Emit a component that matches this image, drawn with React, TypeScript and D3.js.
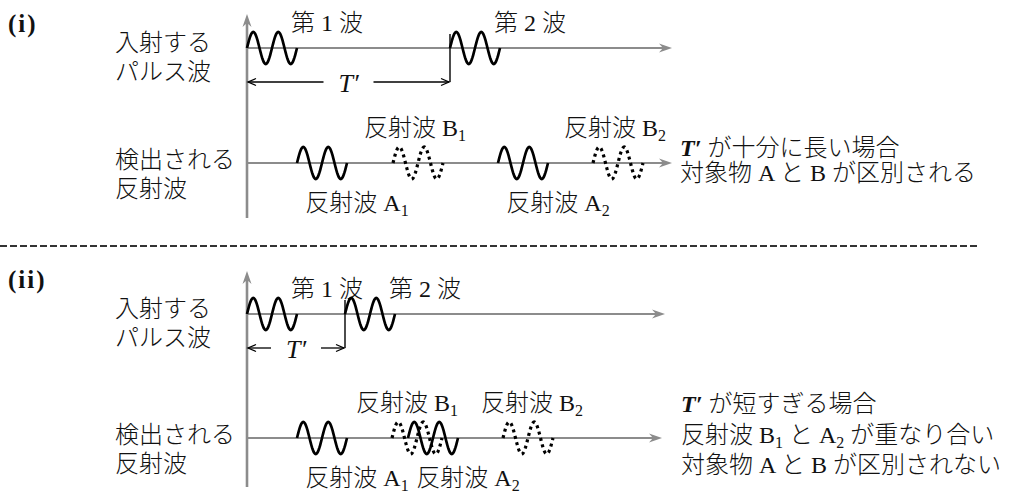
import * as d3 from "d3";

// time unit = length of one pulse (2 cycles)
const cycles = 2;

// (i) long interval
const incidentI = [0, 4.06];
const reflectAI = [1.0, 5.02];
const reflectBI = [2.92, 6.92];

// (ii) short interval
const incidentII = [0, 1.96];
const reflectAII = [1.0, 3.22];
const reflectBII = [2.9, 5.12];

const incidentNames = ["1", "2"];
const reflectSubs = ["1", "2"];

const notesI = ["が十分に長い場合", "対象物 A と B が区別される"];
const notesII = ["が短すぎる場合", "反射波", "対象物 A と B が区別されない"];

const FONT = "'Liberation Serif', 'Noto Sans CJK JP', serif";
const GRAY = "#8c8c8c";

const x = d3.scaleLinear().domain([0, 8.5]).range([247, 672]);
const amp = d3.scaleLinear().domain([-1, 1]).range([16, -16]);
const samples = d3.range(0, 1 + 1e-9, 1 / 80);

const wavePath = (t0: number, baseY: number) =>
  d3
    .line<number>()
    .x((s) => x(t0 + s))
    .y((s) => baseY + amp(Math.sin(2 * Math.PI * cycles * s)))(samples) || "";

const hArrow = (xe: number, y: number) =>
  `M${xe - 13},${y - 4.5}L${xe},${y}L${xe - 13},${y + 4.5}L${xe - 9},${y}Z`;
const vArrow = (xa: number, y: number) =>
  `M${xa - 4.5},${y + 13}L${xa},${y}L${xa + 4.5},${y + 13}L${xa},${y + 9}Z`;

interface PanelProps {
  tag: string;
  tagY: number;
  axisTop: number;
  axisBottom: number;
  incY: number;
  detY: number;
  incEnd: number;
  detEnd: number;
  arrowY: number;
  incident: number[];
  reflA: number[];
  reflB: number[];
  bShift: number[];
}

const txt = { fontFamily: FONT, fontSize: 24, fill: "#111", fontWeight: 300 } as const;

const Panel = (p: PanelProps) => {
  const ax = x(0);
  const t2 = x(p.incident[1]);
  const mid = (ax + t2) / 2;
  return (
    <g>
      <text
        x={8}
        y={p.tagY}
        style={{ ...txt, fontSize: 25, fontWeight: "bold", letterSpacing: 2 }}
      >
        {p.tag}
      </text>
      {/* axes */}
      <line x1={ax} x2={ax} y1={p.axisTop + 6} y2={p.axisBottom} stroke={GRAY} strokeWidth={2.6} />
      <path d={vArrow(ax, p.axisTop)} fill={GRAY} />
      <line x1={ax} x2={x(p.incEnd) - 6} y1={p.incY} y2={p.incY} stroke={GRAY} strokeWidth={2} />
      <path d={hArrow(x(p.incEnd), p.incY)} fill={GRAY} />
      <line x1={ax} x2={x(p.detEnd) - 6} y1={p.detY} y2={p.detY} stroke={GRAY} strokeWidth={2} />
      <path d={hArrow(x(p.detEnd), p.detY)} fill={GRAY} />

      {/* left labels */}
      <text x={115} y={p.incY + 3} style={txt}>入射する</text>
      <text x={115} y={p.incY + 32} style={txt}>パルス波</text>
      <text x={115} y={p.detY + 5} style={txt}>検出される</text>
      <text x={115} y={p.detY + 34} style={txt}>反射波</text>

      {/* incident pulses */}
      {p.incident.map((t, i) => (
        <g key={"inc" + i}>
          <path d={wavePath(t, p.incY)} fill="none" stroke="#000" strokeWidth={2.7} />
          <text x={x(t) + 44} y={p.incY - 17} style={txt}>
            第 {incidentNames[i]} 波
          </text>
        </g>
      ))}
      <line x1={t2} x2={t2} y1={p.incY - 14} y2={p.arrowY} stroke="#000" strokeWidth={1.4} />

      {/* T' interval arrow */}
      <line x1={ax + 1} x2={mid - 25} y1={p.arrowY} y2={p.arrowY} stroke="#000" strokeWidth={1.3} />
      <line x1={mid + 25} x2={t2 - 1} y1={p.arrowY} y2={p.arrowY} stroke="#000" strokeWidth={1.3} />
      <path
        d={`M${ax + 9},${p.arrowY - 3.5}L${ax + 1},${p.arrowY}L${ax + 9},${p.arrowY + 3.5}`}
        fill="none"
        stroke="#000"
        strokeWidth={1.3}
      />
      <path
        d={`M${t2 - 9},${p.arrowY - 3.5}L${t2 - 1},${p.arrowY}L${t2 - 9},${p.arrowY + 3.5}`}
        fill="none"
        stroke="#000"
        strokeWidth={1.3}
      />
      <text
        x={mid}
        y={p.arrowY + 10}
        textAnchor="middle"
        style={{ ...txt, fontStyle: "italic", fontSize: 26 }}
      >
        T′
      </text>

      {/* reflected pulses */}
      {p.reflB.map((t, i) => (
        <g key={"b" + i}>
          <path
            d={wavePath(t, p.detY)}
            fill="none"
            stroke="#000"
            strokeWidth={3.2}
            strokeDasharray="3,3.6"
          />
          <text x={x(t + 0.5) + p.bShift[i]} y={p.detY - 27} textAnchor="middle" style={txt}>
            反射波 B<tspan dy={5} fontSize={16}>{reflectSubs[i]}</tspan>
          </text>
        </g>
      ))}
      {p.reflA.map((t, i) => (
        <g key={"a" + i}>
          <path d={wavePath(t, p.detY)} fill="none" stroke="#000" strokeWidth={2.7} />
          <text x={x(t + 0.5) + 35} y={p.detY + 48} textAnchor="middle" style={txt}>
            反射波 A<tspan dy={5} fontSize={16}>{reflectSubs[i]}</tspan>
          </text>
        </g>
      ))}
    </g>
  );
};

export default function App() {
  const tp = { fontStyle: "italic", fontWeight: "bold" } as const;
  return (
    <svg
      width={1013}
      height={493}
      style={{ position: "absolute", left: 0, top: 0, background: "#fff" }}
    >
      <Panel
        tag="(i)"
        tagY={32}
        axisTop={14}
        axisBottom={218}
        incY={48}
        detY={163}
        incEnd={8.5}
        detEnd={8.5}
        arrowY={82}
        incident={incidentI}
        reflA={reflectAI}
        reflB={reflectBI}
        bShift={[-3, -3]}
      />
      <text x={680} y={156} style={txt}>
        <tspan style={tp}>T′</tspan> {notesI[0]}
      </text>
      <text x={680} y={181} style={txt}>
        {notesI[1]}
      </text>

      <line x1={0} x2={980} y1={246} y2={246} stroke="#333" strokeWidth={2} strokeDasharray="7,3" />

      <Panel
        tag="(ii)"
        tagY={288}
        axisTop={271}
        axisBottom={487}
        incY={314}
        detY={438}
        incEnd={8.36}
        detEnd={8.3}
        arrowY={348}
        incident={incidentII}
        reflA={reflectAII}
        reflB={reflectBII}
        bShift={[-10, 4]}
      />
      <text x={681} y={412} style={txt}>
        <tspan style={tp}>T′</tspan> {notesII[0]}
      </text>
      <text x={681} y={443} style={txt}>
        {notesII[1]} B<tspan dy={5} fontSize={16}>1</tspan>
        <tspan dy={-5}> と A</tspan>
        <tspan dy={5} fontSize={16}>2</tspan>
        <tspan dy={-5}> が重なり合い</tspan>
      </text>
      <text x={681} y={473} style={txt}>
        {notesII[2]}
      </text>
    </svg>
  );
}
